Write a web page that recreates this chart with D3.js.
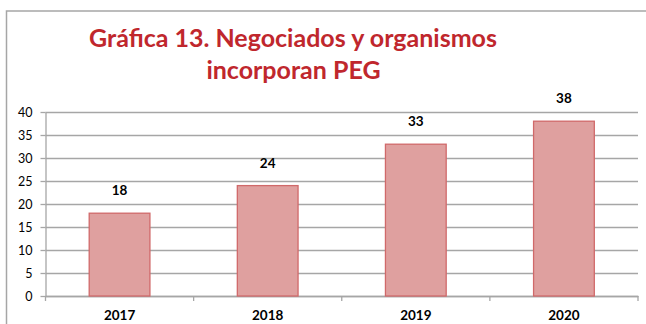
<!DOCTYPE html>
<html>
<head>
<meta charset="utf-8">
<script src="https://cdn.jsdelivr.net/npm/d3@7"></script>
<style>
  html, body { margin: 0; padding: 0; background: #fff; }
  svg { display: block; }
</style>
</head>
<body>
<svg id="chart" width="646" height="324"></svg>
<script>
// Data
const years = ["2017", "2018", "2019", "2020"];
const counts = [18, 24, 33, 38];
const yTicks = [0, 5, 10, 15, 20, 25, 30, 35, 40];
const titleLines = ["Gráfica 13. Negociados y organismos", "incorporan PEG"];

const svg = d3.select("#chart");
const W = 646, H = 324;
const plot = { left: 45.5, right: 638, top: 112, bottom: 296 };
const gridColor = "#a6a6a6";
const font = "Lato, 'Open Sans', 'DejaVu Sans', sans-serif";

// Outer frame of the chart box (runs off the right and bottom edges)
svg.append("rect")
  .attr("x", 6.5).attr("y", 11)
  .attr("width", W).attr("height", H)
  .attr("fill", "#fff")
  .attr("stroke", gridColor)
  .attr("stroke-width", 1.5);

// Scales
const x = d3.scaleBand()
  .domain(years)
  .range([plot.left, plot.right])
  .paddingInner(0.59)
  .paddingOuter(0.295);

const y = d3.scaleLinear()
  .domain([0, 40])
  .range([plot.bottom, plot.top]);

// Horizontal gridlines
svg.append("g")
  .attr("transform", `translate(${plot.left},0)`)
  .call(d3.axisLeft(y).tickValues(yTicks).tickSize(-(plot.right - plot.left)).tickFormat(""))
  .call(g => g.select(".domain").remove())
  .call(g => g.selectAll(".tick line").attr("stroke", gridColor).attr("stroke-width", 1.3));

// Y axis with small outer ticks and labels
const yAxis = svg.append("g")
  .attr("transform", `translate(${plot.left},0)`)
  .call(d3.axisLeft(y).tickValues(yTicks).tickSize(5).tickSizeOuter(0).tickPadding(8));
yAxis.select(".domain").attr("stroke", gridColor).attr("stroke-width", 1.3);
yAxis.selectAll(".tick line").attr("stroke", gridColor).attr("stroke-width", 1.3);
yAxis.selectAll(".tick text")
  .attr("font-family", font)
  .attr("font-size", 12.5)
  .attr("fill", "#000");

// X axis baseline and category boundary ticks
const xAxis = svg.append("g")
  .attr("transform", `translate(0,${plot.bottom})`)
  .call(d3.axisBottom(x).tickSize(0).tickSizeOuter(0).tickPadding(14));
xAxis.select(".domain").attr("stroke", gridColor).attr("stroke-width", 1.3);
xAxis.selectAll(".tick text")
  .attr("font-family", font)
  .attr("font-size", 13.5)
  .attr("font-weight", "bold")
  .attr("fill", "#000");

const boundaries = d3.range(years.length + 1).map(i => plot.left + i * x.step());
xAxis.selectAll("line.boundary")
  .data(boundaries)
  .join("line")
  .attr("class", "boundary")
  .attr("x1", d => d).attr("x2", d => d)
  .attr("y1", 0).attr("y2", 5)
  .attr("stroke", gridColor)
  .attr("stroke-width", 1.3);

// Bars
svg.append("g")
  .selectAll("rect")
  .data(years.map((yr, i) => ({ yr, v: counts[i] })))
  .join("rect")
  .attr("x", d => x(d.yr))
  .attr("y", d => y(d.v))
  .attr("width", x.bandwidth())
  .attr("height", d => y(0) - y(d.v))
  .attr("fill", "#dfa09f")
  .attr("stroke", "#d0696a")
  .attr("stroke-width", 1.3);

// Value labels above bars
svg.append("g")
  .selectAll("text")
  .data(years.map((yr, i) => ({ yr, v: counts[i] })))
  .join("text")
  .attr("x", d => x(d.yr) + x.bandwidth() / 2)
  .attr("y", d => y(d.v) - 18)
  .attr("text-anchor", "middle")
  .attr("font-family", font)
  .attr("font-size", 13.5)
  .attr("font-weight", "bold")
  .attr("fill", "#000")
  .text(d => d.v);

// Title, two centred lines; first line fitted to its width
const title = svg.append("g")
  .attr("font-family", font)
  .attr("font-weight", "bold")
  .attr("fill", "#c0272d")
  .attr("text-anchor", "middle");

const t1 = title.append("text")
  .attr("x", 293).attr("y", 47)
  .attr("font-size", 24)
  .text(titleLines[0]);
const w1 = t1.node().getComputedTextLength();
const fs = 24 * 408 / w1;
t1.attr("font-size", fs);

title.append("text")
  .attr("x", 293.5).attr("y", 79)
  .attr("font-size", fs)
  .text(titleLines[1]);
</script>
</body>
</html>
